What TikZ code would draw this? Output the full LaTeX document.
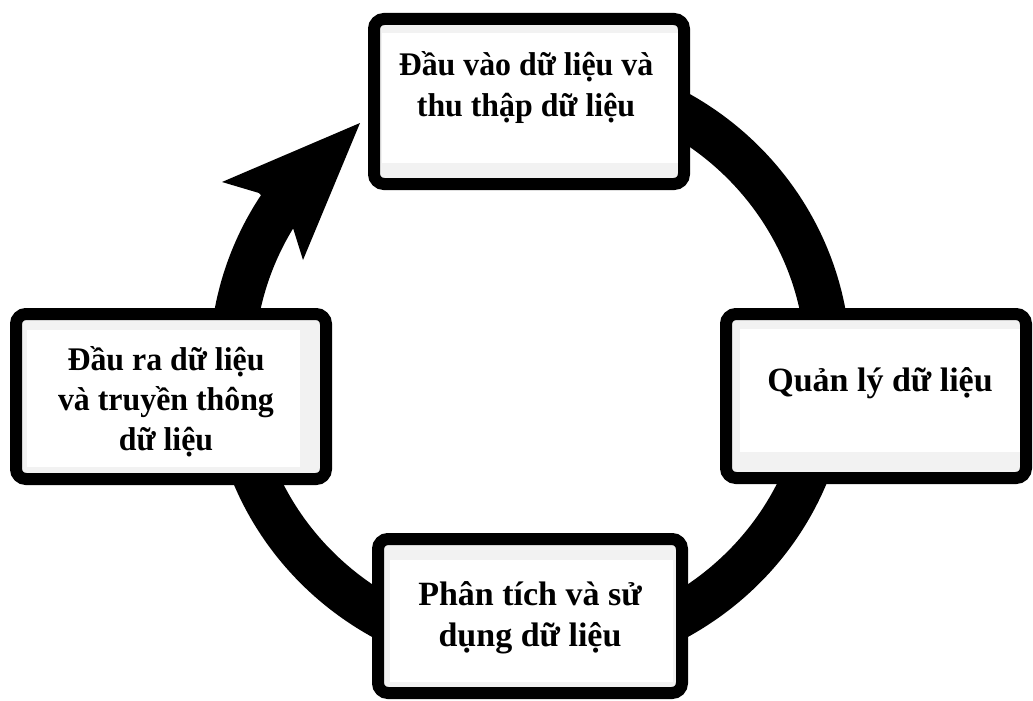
\documentclass[tikz,border=0pt]{standalone}
\usepackage{fontspec}
\setmainfont{Liberation Serif}
\newfontfamily\narrowfont[FakeStretch=0.965]{Liberation Serif}
\definecolor{boxgray}{HTML}{F2F2F2}
\begin{document}
\begin{tikzpicture}[x=1pt,y=-1pt,
  ring/.style={draw=black,line width=45,line cap=butt},
  headfill/.style={fill=black},
  boxframe/.style={draw=black,line width=12,rounded corners=10,fill=boxgray},
  boxface/.style={fill=white},
  lbl/.style={font=\fontsize{34}{41}\selectfont\bfseries,inner sep=0pt,anchor=base},
  lblnarrow/.style={font=\narrowfont\fontsize{33}{40}\selectfont\bfseries,inner sep=0pt,anchor=base}]
\useasboundingbox (0,0) rectangle (1033,701);
% cycle ring
\draw[ring] (530,365) ++(-75:298 and 290)
  arc[start angle=-75,end angle=214,x radius=298,y radius=290];
% arrow head
\fill[headfill] (360,123) -- (222,182) -- (259,193) -- (293,228) -- (303,260) -- cycle;
% top box
\draw[boxframe] (374,19) rectangle (684,184);
\fill[boxface] (382,33) rectangle (678,163);
\node[lblnarrow] (in) at (526,76) {\begin{tabular}[t]{@{}c@{}}Đầu vào dữ liệu và\\thu thập dữ liệu\end{tabular}};
% right box
\draw[boxframe] (726,314) rectangle (1026,478);
\fill[boxface] (740,329) rectangle (1020,452);
\node[lbl] (mgmt) at (880,391) {Quản lý dữ liệu};
% bottom box
\draw[boxframe] (378,539) rectangle (682,693);
\fill[boxface] (390,560) rectangle (673,682);
\node[lbl] (use) at (530,605) {\begin{tabular}[t]{@{}c@{}}Phân tích và sử\\dụng dữ liệu\end{tabular}};
% left box
\draw[boxframe] (16,314) rectangle (326,479);
\fill[boxface] (27,330) rectangle (300,467);
\node[lblnarrow] (out) at (166,370) {\begin{tabular}[t]{@{}c@{}}Đầu ra dữ liệu\\và truyền thông\\dữ liệu\end{tabular}};
\end{tikzpicture}
\end{document}
